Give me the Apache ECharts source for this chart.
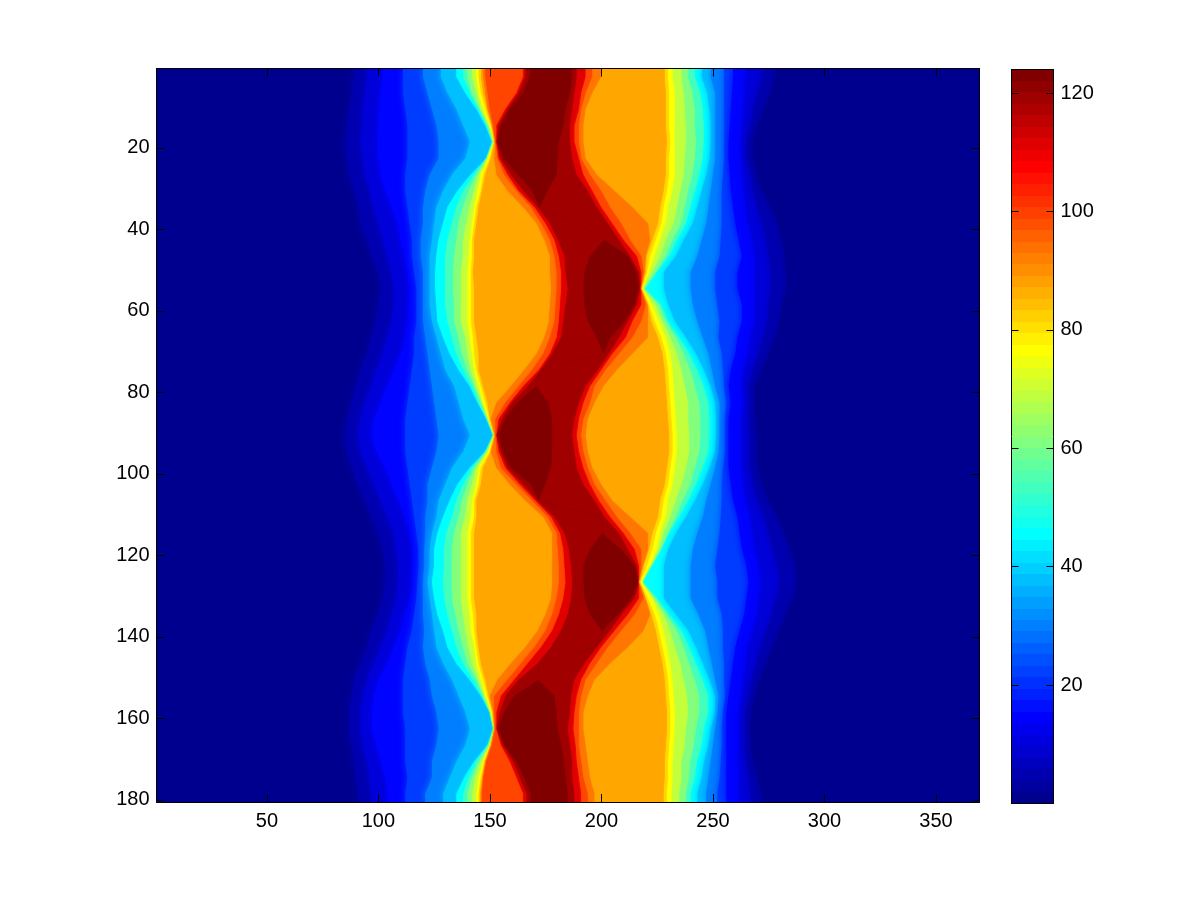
<!DOCTYPE html>
<html><head><meta charset="utf-8"><style>html,body{margin:0;background:#fff}#c{width:1201px;height:901px}</style>
<script src="https://cdn.jsdelivr.net/npm/echarts@6/dist/echarts.min.js"></script></head><body><div id="c"></div>
<script>
const xTicks=[50,100,150,200,250,300,350];
const yTicks=[20,40,60,80,100,120,140,160,180];
const barTicks=[20,40,60,80,100,120];
const jet64=['#00008f','#00009f','#0000af','#0000bf','#0000cf','#0000df','#0000ef','#0000ff','#0010ff','#0020ff','#0030ff','#0040ff','#0050ff','#0060ff','#0070ff','#0080ff','#008fff','#009fff','#00afff','#00bfff','#00cfff','#00dfff','#00efff','#00ffff','#10ffef','#20ffdf','#30ffcf','#40ffbf','#50ffaf','#60ff9f','#70ff8f','#80ff80','#8fff70','#9fff60','#afff50','#bfff40','#cfff30','#dfff20','#efff10','#ffff00','#ffef00','#ffdf00','#ffcf00','#ffbf00','#ffaf00','#ff9f00','#ff8f00','#ff8000','#ff7000','#ff6000','#ff5000','#ff4000','#ff3000','#ff2000','#ff1000','#ff0000','#ef0000','#df0000','#cf0000','#bf0000','#af0000','#9f0000','#8f0000','#800000'];
// Band levels met walking left to right across one image row, then the edges where each band begins.
const levelsUp=[5,10,15,22,30,38,46,54,62,70,77,82,88,94,100,112,120,124];
const levelsDown=[120,112,100,94,88,82,77,70,62,54,46,38,30,22,15,10,5,1];
const rowCentres=[2.5,6.5,10.5,14.5,18.5,22.5,26.5,30.5,34.5,38.5,42.5,46.5,50.5,54.5,58.5,62.5,66.5,70.5,74.5,78.5,82.5,86.5,90.5,94.5,98.5,102.5,106.5,110.5,114.5,118.5,122.5,126.5,130.5,134.5,138.5,142.5,146.5,150.5,154.5,158.5,162.5,166.5,170.5,174.5,178.5];
const edgeRows=[
[89,95,102,111,120,128,135,138,140,142,144,145,146,147,148,165,166,168,187,189,193,196,200,228.5,230,232,236,239,242,245,249,255,259,265,272,278],
[88,94,101,111,122,131,139,141,142,144,145,146,147,148,149,162,163,165,186,188,191,193,196,229,230.5,233,237,241,244.5,247.5,251,255,258.5,264.5,270,276],
[87,93,100,112,124,135,144,145,145.5,146,147,148,149,149,150,157,158,159,184,187,190,191,193,229,230.5,233,237.5,242,245.5,248.5,251,255,258,264,268,273],
[86,93,100,113,126,138,148,148.5,149,149.5,150,150.5,151,151,151.5,153,154,155,183,186,188,190,192,229,230.5,233,238,242,246,249,251,255,257.5,263,267,270],
[85,92,99.5,113,127,141,151,151,151.5,151.5,152,152,152,152.5,152.5,153,153,153.5,181,186,188,190,192,229.5,231,233,238,242.5,246,249,251,255,257,263,265,268],
[86,93,100,113,127,139,148.5,148.5,148.5,149,149,150,150.5,152,153.5,154,155,156.5,180.5,187,190,191,193,229,230.5,233,237.5,242,245.5,248.5,251,255,257,263,265,268],
[87,94,101,112,123,133,141.5,143,144,145,146,147,148,153,156.5,158,159.5,162.5,180,189,192,195,198,229,230.5,233,237,241,244,247,250,254.5,257.5,263.5,267,270],
[89,96,103,112,121,129,135.5,138,140.5,143,144.5,146,146.5,158,162,163,165,169,176,194,196,200,206,228,229.5,232,235.5,239,242,245,249,254,258,264,268,272],
[91,98,106,113,120,126,131,135,138,141,143,144,145,165,168.5,170,171.5,172.5,172.5,198,200,204,214,226.5,228,230,234,237.5,240,243,248,254,259,265,270,276],
[92,100,108.5,114,120,125,129,133,136,139.5,142,143,144,171,173,175,177,190,190,203,205,209,221,225.5,227,229,232.5,236,238,241,247,254,260,266,272,279],
[95,102,110,115,119,124,127,131,135,138,141,142,143,174.5,177,179,180.5,201.5,201.5,208,210,213,222,223,224.5,226.5,229,232,234,237,245,253.5,261.5,267.5,274,281],
[97,104,111.5,115,119,123,126,130,134,138,140.5,142,143,177,179,181,183.5,195,212,213,216,218,220,220.5,222,224,226.5,229,230.5,233.5,243,253,263,269,275,282],
[100,106,113,116,120,123,125.5,130,133.5,137,140,141.5,142.5,177,180,182,184,192.5,216,217,218,219,219.5,220,220.5,221.5,223,224.5,225,228,240,251,261,269,276,283],
[101,107,113.5,117,120,123,125.5,130,133.5,137,140,141.5,143,177.5,180,182,185,192,217,217.5,218,218,218,218,218.5,219,219,219.5,220,228,240,251,261,269,276,283],
[100,107,113.5,117,120,123,126,130,134,137,140,141.5,143,177,179.5,181.5,184,192.5,215,216,218,220,221,221,221.5,223,224.5,226,227,230,241,252,263,269,275,281],
[99,106,113,117,120,124,126.5,131,134,137,140,141.5,143,176.5,179,181,183,194,210.5,212,214,218,221,222.5,224,226,227.5,229,230,233,243,253,263,269,274.5,280],
[97,104,112,116,121,126,129,133,136,139,141,142.5,144,174.5,177,180,182,198,204,208,211,214,221,225.5,227,229,231,233.5,235,238,245.5,252.5,261,267,272.5,278],
[95,102,110,116,122,128,132,135,137.5,140,142,143,145,171,174,177,178,201,201,203.5,205,208,214,227.5,229,231,234,237,239.5,242.5,248,254,260,266,270.5,275],
[92,99,107,115,123,130,136,138,140,141.5,143,144,145,165.5,169,172,173,173,173,198.5,200,202,207,228.5,230,232,236,240,243,246,249.5,254.5,258,264,268,272],
[90,97,104,114,124,134,141,142,143,144,145,146,147,159.5,163,165,167,171,171,193,195,197,201,229,230.5,232.5,237.5,242,246,249,251,255,257,263,266,269],
[88,94,101,113,125,136,144.5,145,146,146.5,147,148,149,153,157,159,160,162.5,176.5,190,192,195,197,229.5,231,233,239,244,248,251,253,256,258,264,266.5,269],
[86,92,98,112,126,138,148.5,148.5,149,149,149.5,150,150,150.5,152.5,154,155.5,157,178,188,190,192,194,230,231.5,233.5,239,244.5,248.5,251.5,253,255.5,257,263,266,269],
[85,91,97,112,127,141,151.5,151.5,151.5,152,152,152,152,152.5,152.5,153,153,154,178,187,189,191,193,230.5,232,234,239.5,244.5,248.5,251.5,253,255.5,257,263,266.5,270],
[86,92,99,112,126,138,148,148,148.5,149,149,150,150.5,150.5,153,154,155,156,178,188,190,192,194,230.5,232,234,239.5,244,248,251,252.5,255.5,257,263,266.5,270],
[88,95,103,113,124,133,141,142,143,144,145,146,147,153,155,157,158,159.5,177.5,189,192,194,196,229.5,231,233,238,242,245.5,248.5,251,254.5,257,263,266.5,270],
[91,98,106,114,122,130,135.5,138,140,142,144,145,146,159,162,163.5,165,168.5,175,192,195,197,200,228.5,230,232,236,240,242.5,245.5,249,254,258,264,268,272],
[94,101,109,115,122,127,132,135,137.5,140,142,143,144,166,169,170.5,171.5,172,172,197,199,202,205,226.5,228,230,233.5,236.5,239,242,247,254,259,265,270,275],
[97,104,112,116,121,126,129,133,136,139,141.5,143,144,174,176,177.5,179,200.5,200.5,201.5,204,207,213,225.5,227,229,231,233.5,235,238,245.5,253.5,261,267,273,279],
[100,107,114,117,121,124,126.5,130.5,134,137,140,141.5,143,178,180,181.5,183.5,200.5,200.5,208,210,213,221,223,224.5,226.5,228,230,230.5,233.5,243,253,262,268,275,282],
[102,108,115,118,120.5,123,125,129.5,133,137,140,141.5,143,178,180.5,183,185.5,195,209,212,215,218,221,221.5,223,225,226,227,227,230,241,252,263,269,277,285],
[103,109,115,118,120.5,123,125,129.5,133,137,140,141.5,143,178,181,183.5,186.5,192,215,216,217,218,219,219,220.5,222,222.5,222.5,223,228,240,251,265,271,279,287],
[103,109,115,117.5,120,122,124,129,133,137,140,141.5,143,178,181,184,187,192,217,217,217,217,217,217.5,217.5,218.5,218.5,218.5,219,228,240,252,266,272,280,288],
[102,108,114,117,120,123,125,129.5,133,137,140,141.5,143,177.5,180,183,186.5,192.5,213.5,215,217,219,220,220,221,223,223.5,224.5,225,228,240,252,265,271,278.5,286],
[100,106,112,116,120,124,126.5,131,134.5,138,141,142.5,144,175,178,181,185,195,207.5,209,212,215,222,222.5,224,226,228,229.5,230.5,233.5,243.5,254,264,270,276.5,283],
[97,104,110,115,120.5,125,129,133,136,139,141.5,143,144,171.5,175,178,182,200.5,200.5,204,206,209,219,224.5,226,228,231,234,236,239,246.5,254.5,262,268,274,280],
[95,101,107,113,120,126,131,135,138,140.5,143,144,145,166,170,173,177.5,197.5,197.5,198,200,203,212,226,227.5,229.5,233,237,239.5,242.5,248,254.5,260,266,271.5,277],
[92,98,104,112,121,129,135,138,140,142,144,145,146,159.5,164,167,171.5,172,172,192.5,195,198,204,227.5,229,231,235.5,239.5,242.5,245.5,249.5,255,259,265,269.5,274],
[89,95,100,111,123,133,141,142.5,144,145,146,147,148,153.5,158,161,163,172,172,188,191,193,197,228.5,230,232,237,242,245.5,248.5,251,255,258,264,267.5,271],
[88,93,98,111,124,136,146,146.5,147,147.5,148,149,149.5,150,152,155,157,161,179,186.5,189,191,194,229,230.5,232.5,238.5,244,248,251,252.5,255.5,257,263,266,269],
[87,92,97,111,126,139,150,150,150,150.5,150.5,151,151.5,151.5,152,153,154.5,156.5,180,186,188,190,192,229.5,231,233,239,244,248,251,252,254.5,256,262,264.5,267],
[87,92,97,112,127,141,151.5,151.5,151.5,152,152,152,152,152,152.5,153,153,154,180.5,185,187.5,190,192,229.5,231,233,238,242.5,246,249,251,254,256,262,264.5,267],
[88,93,99,112,126,139,149,149,149.5,150,150,150.5,150.5,150.5,151,155,156,156.5,182,186,188.5,190,193,229,230.5,232.5,237.5,241.5,245,248,250,254,256,262,264.5,267],
[89,95,101,112,124,135,143,144,145,146,147,147.5,148,148,148.5,159,160.5,162,183.5,187,189,191,194,228.5,230,232,236,240,243,246,249,253.5,256,262,265,268],
[90,96,103,113,124,132,138.5,140.5,142,143.5,145,146,146.5,147,147,162,163.5,165.5,184,187,190,192,195,228.5,230,232,236,239.5,242,245,248,253,256,262,266,270],
[91,97,104,112,121,129,135,138,140,142,144,145,145.5,146,146.5,165,166.5,168.5,185,188,191,194,197,228,229.5,231.5,235,238,240,243,247,252,256,262,267,272]
];
const xMin=0.5,xMax=369.5,yMin=0.5,yMax=180.5;
const levels=[1].concat(levelsUp,levelsDown);
// One band per level step; each band is painted from its left contour to the right border, in order.
const bands=levels.map((level,i)=>[i,level]);
function contour(i){
  if(i===0)return rowCentres.map(()=>xMin);
  return edgeRows.map(r=>r[i-1]);
}
function bandItem(params,api){
  const i=api.value(0),xs=contour(i),pts=[];
  pts.push(api.coord([xMax,yMin]));
  pts.push(api.coord([xs[0],yMin]));
  xs.forEach((x,k)=>pts.push(api.coord([x,rowCentres[k]])));
  pts.push(api.coord([xs[xs.length-1],yMax]));
  pts.push(api.coord([xMax,yMax]));
  const c=api.visual('color'),soft=api.value(1)<=38;
  return{type:'polygon',shape:{points:pts},style:{fill:c,stroke:null,shadowColor:c,shadowBlur:soft?7:1.5}};
}
const barTop=124;
const barCells=jet64.map((_,i)=>[i*barTop/64,(i+1)*barTop/64,1+i*123/63]);
function barItem(params,api){
  const a=api.coord([0,api.value(0)]),b=api.coord([1,api.value(1)]);
  const x0=Math.round(a[0]),x1=Math.round(b[0]),y0=Math.round(b[1]),y1=Math.round(a[1]);
  return{type:'rect',shape:{x:x0,y:y0,width:x1-x0,height:y1-y0},style:{fill:api.visual('color'),stroke:null}};
}
const font={fontFamily:'Liberation Sans',fontSize:20,color:'#000'};
const line={show:true,onZero:false,lineStyle:{color:'#000',width:1}};
const tick=(vals,len)=>({show:true,inside:true,length:len,customValues:vals,lineStyle:{color:'#000',width:1}});
const common={type:'value',z:10,splitLine:{show:false},axisLine:line};
const chart=echarts.init(document.getElementById('c'),null,{renderer:'canvas'});
chart.setOption({
  animation:false,backgroundColor:'#fff',
  grid:[
    {left:156.5,top:68.5,width:823,height:733.5,containLabel:false},
    {left:1011.5,top:69.5,width:42,height:734,containLabel:false}
  ],
  xAxis:[
    {...common,gridIndex:0,position:'bottom',min:xMin,max:xMax,axisTick:tick(xTicks,8),axisLabel:{...font,margin:9,customValues:xTicks}},
    {...common,gridIndex:0,position:'top',min:xMin,max:xMax,axisTick:tick(xTicks,8),axisLabel:{show:false}},
    {...common,gridIndex:1,position:'bottom',min:0,max:1,axisTick:{show:false},axisLabel:{show:false}},
    {...common,gridIndex:1,position:'top',min:0,max:1,axisTick:{show:false},axisLabel:{show:false}}
  ],
  yAxis:[
    {...common,gridIndex:0,position:'left',inverse:true,min:yMin,max:yMax,axisTick:tick(yTicks,8),axisLabel:{...font,margin:7,customValues:yTicks}},
    {...common,gridIndex:0,position:'right',inverse:true,min:yMin,max:yMax,axisTick:tick(yTicks,8),axisLabel:{show:false}},
    {...common,gridIndex:1,position:'right',min:0,max:barTop,axisTick:tick(barTicks,7),axisLabel:{...font,margin:7,customValues:barTicks}},
    {...common,gridIndex:1,position:'left',min:0,max:barTop,axisTick:tick(barTicks,7),axisLabel:{show:false}}
  ],
  visualMap:[
    {show:false,type:'continuous',min:1,max:124,dimension:1,seriesIndex:0,inRange:{color:jet64}},
    {show:false,type:'continuous',min:1,max:124,dimension:2,seriesIndex:1,inRange:{color:jet64}}
  ],
  series:[
    {type:'custom',xAxisIndex:0,yAxisIndex:0,data:bands,renderItem:bandItem,clip:true,silent:true,progressive:0},
    {type:'custom',xAxisIndex:2,yAxisIndex:2,data:barCells,renderItem:barItem,encode:{y:[0,1]},clip:true,silent:true,progressive:0}
  ]
});
</script></body></html>
